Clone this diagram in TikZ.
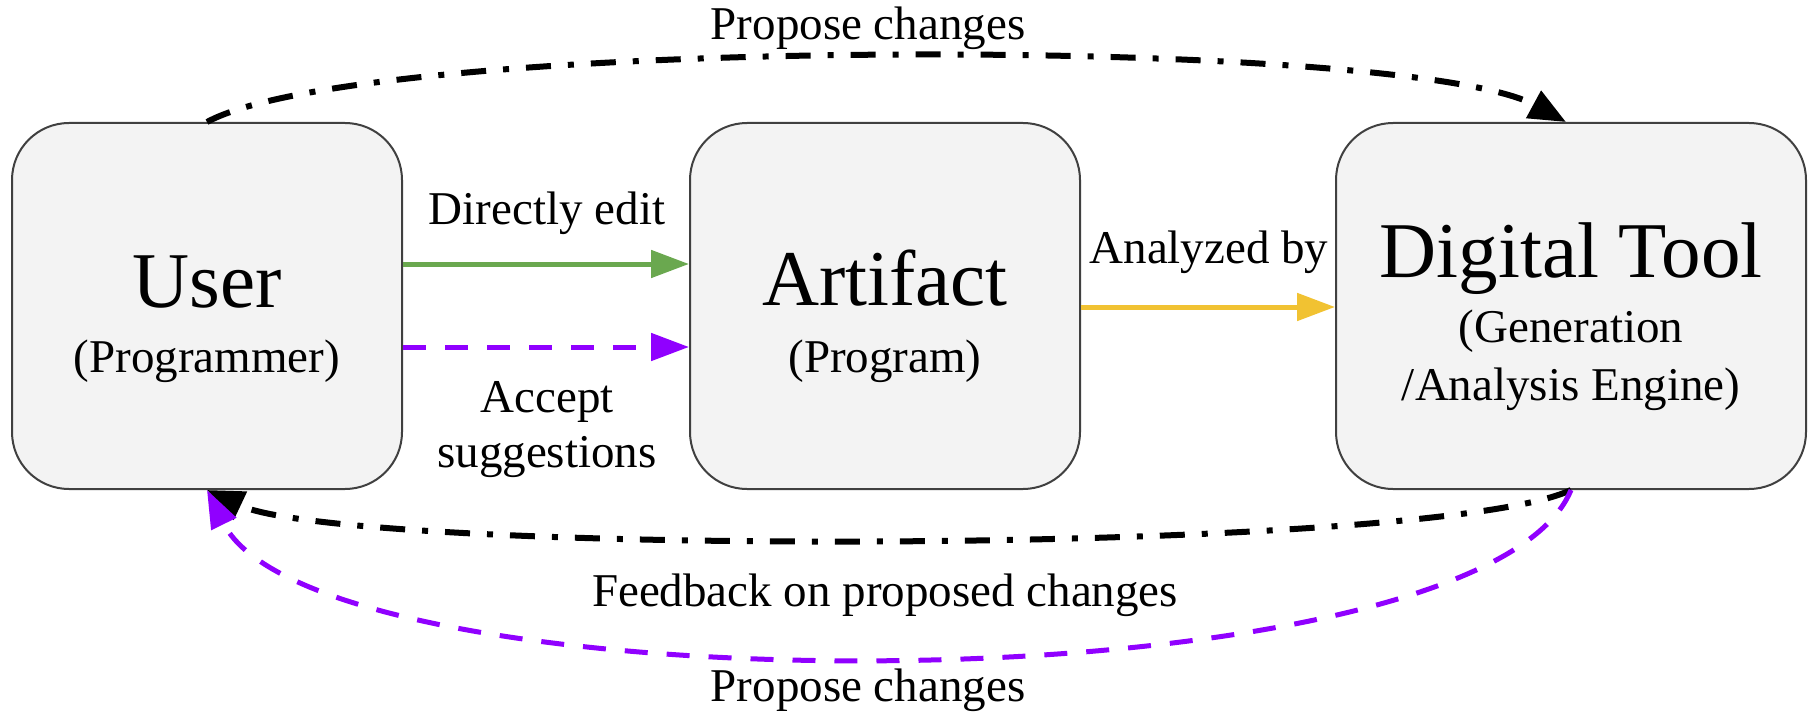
\documentclass[tikz,border=0pt]{standalone}
\usepackage{fontspec}
\setmainfont{Liberation Serif}
\usetikzlibrary{arrows.meta}
\definecolor{boxfill}{HTML}{F3F3F3}
\definecolor{boxline}{HTML}{404040}
\definecolor{editgreen}{HTML}{6AA84F}
\definecolor{suggpurple}{HTML}{9000FF}
\definecolor{anayellow}{HTML}{F1C232}
\newcommand\BigLbl{\fontsize{79pt}{90pt}\selectfont}
\newcommand\SmLbl{\fontsize{47pt}{56pt}\selectfont}
\tikzset{
  box/.style={draw=boxline, line width=2pt, fill=boxfill, rounded corners=57pt,
    minimum width=390pt, minimum height=366pt, inner sep=0pt},
  bigtext/.style={anchor=base, inner sep=0pt, font=\BigLbl},
  smtext/.style={anchor=base, inner sep=0pt, font=\SmLbl},
  solidarrow/.style={line width=5pt, -{Triangle[length=38pt,width=27pt]}},
  dasharrow/.style={line width=5pt, dash pattern=on 23pt off 19pt, -{Triangle[length=38pt,width=27pt]}},
  dotdasharrow/.style={line width=6pt, dash pattern=on 25pt off 17pt on 6pt off 17pt, -{Triangle[length=37pt,width=30pt]}}
}
\begin{document}
\begin{tikzpicture}[x=1pt,y=-1pt]
\useasboundingbox (0,0) rectangle (1815,714);
% boxes
\node[box] (user) at (207,306) {};
\node[box] (artifact) at (885,306) {};
\node[box, minimum width=470pt] (tool) at (1571,306) {};
% box texts
\node[bigtext] (usert) at (207,307) {User};
\node[smtext] (users) at (207,372) {(Programmer)};
\node[bigtext] (artt) at (885,305) {Artifact};
\node[smtext] (arts) at (885,372) {(Program)};
\node[bigtext] (toolt) at (1571,277) {Digital Tool};
\node[smtext] (tools1) at (1571,342) {(Generation};
\node[smtext] (tools2) at (1571,400) {/Analysis Engine)};
% straight connectors
\draw[solidarrow, editgreen] ([yshift=42pt]user.east) -- ([yshift=42pt]artifact.west);
\draw[dasharrow, suggpurple] ([yshift=-41pt]user.east) -- ([yshift=-41pt]artifact.west);
\draw[solidarrow, anayellow] ([yshift=-1pt]artifact.east) -- ([yshift=-1pt]tool.west);
% curved connectors
\draw[dotdasharrow, black] (user.north) .. controls +(160,-87) and +(-160,-87) .. ([xshift=-5pt]tool.north);
\draw[dotdasharrow, black] (tool.south) .. controls +(-140,66) and +(140,66) .. (user.south);
\draw[dasharrow, suggpurple] (tool.south) .. controls +(-91,222) and +(110,222) .. (user.south);
% labels
\node[smtext] (ltop) at (868,40) {Propose changes};
\node[smtext] (ledit) at (547,225) {Directly edit};
\node[smtext] (lacc1) at (547,412) {Accept};
\node[smtext] (lacc2) at (547,467) {suggestions};
\node[smtext] (lana) at (1209,263) {Analyzed by};
\node[smtext] (lfb) at (885,606) {Feedback on proposed changes};
\node[smtext] (lbot) at (868,701) {Propose changes};
\end{tikzpicture}
\end{document}
